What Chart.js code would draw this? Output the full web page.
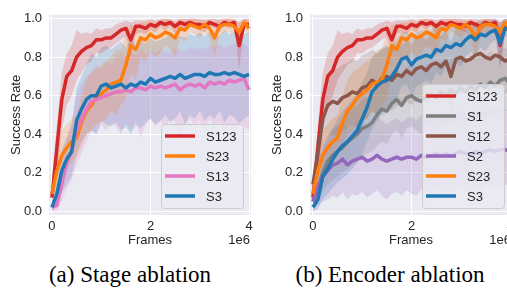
<!DOCTYPE html>
<html>
<head>
<meta charset="utf-8">
<script src="https://cdn.jsdelivr.net/npm/chart.js@4.4.1/dist/chart.umd.min.js"></script>
<style>
  html, body { margin: 0; padding: 0; background: #fff; overflow: hidden; width: 507px; height: 295px; position: relative; }
  .panel { position: absolute; top: 0; width: 258px; height: 250px; }
  #p1 { left: 0; }
  #p2 { left: 261px; }
  .caption { position: absolute; top: 263px; font-family: "Liberation Serif", "Times New Roman", serif; font-size: 23px; line-height: 23px; color: #000; white-space: nowrap; transform: translateX(-50%); }
</style>
</head>
<body>
<div class="panel" id="p1"><canvas id="c1" width="258" height="250"></canvas></div>
<div class="panel" id="p2"><canvas id="c2" width="258" height="250"></canvas></div>
<div class="caption" style="left:130px">(a) Stage ablation</div>
<div class="caption" style="left:390px">(b) Encoder ablation</div>
<script>
// frames in units of 1e6
const frames = [0, 0.1, 0.2, 0.3, 0.4, 0.5, 0.6, 0.7, 0.8, 0.9, 1.0, 1.1, 1.2, 1.3, 1.4, 1.5, 1.6, 1.7, 1.8, 1.9, 2.0,
  2.1, 2.2, 2.3, 2.4, 2.5, 2.6, 2.7, 2.8, 2.9, 3.0, 3.1, 3.2, 3.3, 3.4, 3.5, 3.6, 3.7, 3.8, 3.9, 4.0];
const xTicks = [0, 2, 4];
const yTicks = [0, 0.2, 0.4, 0.6, 0.8, 1.0];

// S123 (same in both panels)
const s123 = [0.07, 0.33, 0.58, 0.70, 0.73, 0.80, 0.83, 0.85, 0.86, 0.89, 0.89, 0.90, 0.90, 0.92, 0.94, 0.95, 0.89, 0.96, 0.96, 0.95, 0.97,
  0.96, 0.98, 0.97, 0.98, 0.96, 0.98, 0.97, 0.98, 0.97, 0.97, 0.96, 0.98, 0.97, 0.96, 0.98, 0.97, 0.98, 0.86, 0.97, 0.97];
const s123Lo = [0.04, 0.18, 0.42, 0.55, 0.60, 0.68, 0.72, 0.76, 0.78, 0.82, 0.82, 0.84, 0.85, 0.87, 0.89, 0.91, 0.80, 0.92, 0.93, 0.92, 0.94,
  0.93, 0.96, 0.94, 0.96, 0.92, 0.96, 0.94, 0.96, 0.95, 0.94, 0.93, 0.96, 0.95, 0.93, 0.96, 0.95, 0.96, 0.74, 0.95, 0.95];
const s123Hi = [0.10, 0.45, 0.72, 0.82, 0.86, 0.94, 0.92, 0.93, 0.92, 0.95, 0.94, 0.95, 0.95, 0.97, 0.98, 0.99, 0.98, 0.99, 0.99, 0.99, 1.0,
  0.99, 1.0, 1.0, 1.0, 0.99, 1.0, 1.0, 1.0, 1.0, 1.0, 0.99, 1.0, 1.0, 0.99, 1.0, 1.0, 1.0, 0.98, 1.0, 1.0];

// S23 (same in both panels)
const s23 = [0.09, 0.21, 0.29, 0.33, 0.36, 0.38, 0.46, 0.52, 0.55, 0.59, 0.61, 0.63, 0.66, 0.67, 0.68, 0.76, 0.86, 0.84, 0.90, 0.89, 0.92,
  0.90, 0.91, 0.93, 0.92, 0.90, 0.95, 0.94, 0.97, 0.96, 0.95, 0.97, 0.95, 0.90, 0.96, 0.97, 0.97, 0.96, 0.93, 0.98, 0.95];
const s23Lo = [0.07, 0.12, 0.18, 0.22, 0.25, 0.28, 0.34, 0.40, 0.42, 0.45, 0.46, 0.48, 0.52, 0.50, 0.55, 0.58, 0.72, 0.68, 0.80, 0.78, 0.83,
  0.80, 0.82, 0.86, 0.84, 0.80, 0.90, 0.88, 0.93, 0.92, 0.90, 0.93, 0.90, 0.80, 0.91, 0.93, 0.93, 0.92, 0.86, 0.95, 0.90];
const s23Hi = [0.11, 0.30, 0.42, 0.45, 0.48, 0.50, 0.60, 0.68, 0.72, 0.74, 0.76, 0.78, 0.80, 0.84, 0.84, 0.93, 0.97, 0.96, 0.98, 0.98, 0.99,
  0.98, 0.99, 1.0, 0.99, 0.98, 1.0, 0.99, 1.0, 1.0, 0.99, 1.0, 0.99, 0.98, 1.0, 1.0, 1.0, 0.99, 0.98, 1.0, 0.99];

// S13 (stage ablation)
const s13 = [0.02, 0.03, 0.14, 0.25, 0.31, 0.42, 0.48, 0.53, 0.57, 0.58, 0.59, 0.60, 0.61, 0.62, 0.62, 0.63, 0.62, 0.64, 0.64, 0.63, 0.65,
  0.64, 0.65, 0.64, 0.65, 0.66, 0.63, 0.65, 0.66, 0.65, 0.66, 0.64, 0.67, 0.66, 0.67, 0.66, 0.68, 0.67, 0.68, 0.69, 0.63];
const s13Lo = [0.0, 0.0, 0.05, 0.12, 0.16, 0.24, 0.30, 0.36, 0.42, 0.40, 0.45, 0.42, 0.46, 0.44, 0.40, 0.46, 0.42, 0.47, 0.38, 0.45, 0.48,
  0.44, 0.47, 0.43, 0.48, 0.46, 0.40, 0.45, 0.48, 0.44, 0.47, 0.42, 0.48, 0.44, 0.46, 0.42, 0.45, 0.40, 0.47, 0.44, 0.42];
const s13Hi = [0.04, 0.08, 0.24, 0.38, 0.46, 0.60, 0.66, 0.70, 0.72, 0.76, 0.74, 0.78, 0.76, 0.80, 0.82, 0.80, 0.82, 0.81, 0.84, 0.82, 0.83,
  0.82, 0.84, 0.83, 0.82, 0.85, 0.84, 0.83, 0.85, 0.84, 0.85, 0.84, 0.86, 0.85, 0.87, 0.85, 0.86, 0.87, 0.88, 0.87, 0.85];

// S3 (stage ablation)
const s3a = [0.02, 0.09, 0.21, 0.27, 0.31, 0.47, 0.53, 0.58, 0.60, 0.60, 0.65, 0.66, 0.64, 0.65, 0.66, 0.64, 0.66, 0.65, 0.67, 0.66, 0.69,
  0.67, 0.68, 0.69, 0.70, 0.69, 0.71, 0.69, 0.70, 0.71, 0.71, 0.70, 0.72, 0.71, 0.71, 0.72, 0.71, 0.72, 0.71, 0.70, 0.71];
const s3aLo = [0.0, 0.03, 0.10, 0.14, 0.18, 0.30, 0.36, 0.40, 0.42, 0.40, 0.47, 0.45, 0.44, 0.46, 0.42, 0.44, 0.40, 0.45, 0.43, 0.46, 0.48,
  0.45, 0.47, 0.50, 0.46, 0.48, 0.52, 0.45, 0.50, 0.48, 0.52, 0.47, 0.50, 0.48, 0.52, 0.46, 0.50, 0.49, 0.45, 0.48, 0.50];
const s3aHi = [0.04, 0.16, 0.32, 0.38, 0.45, 0.64, 0.70, 0.76, 0.82, 0.80, 0.85, 0.86, 0.84, 0.86, 0.88, 0.85, 0.90, 0.86, 0.90, 0.87, 0.90,
  0.88, 0.89, 0.90, 0.92, 0.90, 0.91, 0.90, 0.92, 0.91, 0.93, 0.91, 0.93, 0.92, 0.91, 0.94, 0.92, 0.93, 0.93, 0.92, 0.93];

// S1 (encoder ablation)
const s1 = [0.05, 0.12, 0.20, 0.26, 0.29, 0.31, 0.33, 0.36, 0.38, 0.40, 0.43, 0.44, 0.46, 0.50, 0.53, 0.52, 0.56, 0.58, 0.55, 0.59, 0.60,
  0.58, 0.57, 0.60, 0.61, 0.59, 0.62, 0.60, 0.63, 0.61, 0.64, 0.62, 0.65, 0.63, 0.66, 0.64, 0.67, 0.65, 0.68, 0.69, 0.66];
const s1Lo = [0.01, 0.05, 0.10, 0.14, 0.16, 0.18, 0.20, 0.22, 0.24, 0.26, 0.28, 0.30, 0.31, 0.34, 0.36, 0.35, 0.40, 0.42, 0.38, 0.43, 0.44,
  0.42, 0.40, 0.44, 0.45, 0.42, 0.46, 0.44, 0.47, 0.45, 0.48, 0.46, 0.49, 0.47, 0.50, 0.48, 0.51, 0.49, 0.52, 0.53, 0.50];
const s1Hi = [0.10, 0.20, 0.32, 0.40, 0.43, 0.45, 0.47, 0.51, 0.53, 0.55, 0.58, 0.59, 0.61, 0.66, 0.69, 0.68, 0.72, 0.74, 0.71, 0.75, 0.76,
  0.74, 0.73, 0.76, 0.77, 0.75, 0.78, 0.76, 0.79, 0.77, 0.80, 0.78, 0.81, 0.79, 0.82, 0.80, 0.83, 0.81, 0.84, 0.85, 0.82];

// S12 (encoder ablation)
const s12 = [0.14, 0.30, 0.48, 0.55, 0.57, 0.56, 0.59, 0.60, 0.62, 0.61, 0.64, 0.65, 0.68, 0.66, 0.69, 0.70, 0.68, 0.71, 0.70, 0.73, 0.71,
  0.74, 0.75, 0.73, 0.76, 0.77, 0.75, 0.78, 0.70, 0.79, 0.80, 0.78, 0.79, 0.81, 0.82, 0.80, 0.79, 0.81, 0.80, 0.78, 0.79];
const s12Lo = [0.08, 0.18, 0.32, 0.38, 0.40, 0.38, 0.42, 0.43, 0.45, 0.44, 0.47, 0.48, 0.52, 0.50, 0.53, 0.54, 0.52, 0.55, 0.54, 0.57, 0.55,
  0.58, 0.59, 0.56, 0.60, 0.61, 0.58, 0.62, 0.52, 0.63, 0.64, 0.61, 0.63, 0.65, 0.66, 0.63, 0.62, 0.65, 0.64, 0.61, 0.63];
const s12Hi = [0.20, 0.42, 0.64, 0.72, 0.74, 0.74, 0.76, 0.77, 0.79, 0.78, 0.81, 0.82, 0.84, 0.82, 0.85, 0.86, 0.84, 0.87, 0.86, 0.89, 0.87,
  0.90, 0.91, 0.89, 0.92, 0.93, 0.91, 0.94, 0.88, 0.95, 0.96, 0.94, 0.95, 0.97, 0.97, 0.96, 0.95, 0.97, 0.96, 0.94, 0.95];

// S2 (encoder ablation)
const s2 = [0.05, 0.13, 0.18, 0.21, 0.24, 0.25, 0.27, 0.24, 0.26, 0.27, 0.28, 0.26, 0.27, 0.29, 0.27, 0.26, 0.27, 0.28, 0.27, 0.28, 0.28,
  0.27, 0.29, 0.28, 0.29, 0.30, 0.29, 0.30, 0.29, 0.30, 0.31, 0.30, 0.29, 0.31, 0.30, 0.31, 0.32, 0.31, 0.32, 0.32, 0.31];
const s2Lo = [0.0, 0.03, 0.05, 0.06, 0.08, 0.07, 0.10, 0.06, 0.09, 0.08, 0.10, 0.07, 0.09, 0.11, 0.08, 0.06, 0.09, 0.10, 0.08, 0.11, 0.09,
  0.08, 0.11, 0.09, 0.10, 0.12, 0.10, 0.11, 0.09, 0.12, 0.13, 0.11, 0.10, 0.12, 0.11, 0.13, 0.14, 0.12, 0.13, 0.14, 0.12];
const s2Hi = [0.12, 0.26, 0.34, 0.38, 0.42, 0.44, 0.46, 0.42, 0.45, 0.47, 0.48, 0.45, 0.46, 0.50, 0.47, 0.45, 0.47, 0.48, 0.46, 0.48, 0.49,
  0.47, 0.50, 0.48, 0.49, 0.51, 0.49, 0.51, 0.50, 0.51, 0.52, 0.51, 0.50, 0.52, 0.51, 0.52, 0.53, 0.52, 0.53, 0.53, 0.52];

// S3 (encoder ablation)
const s3b = [0.02, 0.06, 0.18, 0.22, 0.27, 0.31, 0.34, 0.36, 0.39, 0.42, 0.48, 0.54, 0.62, 0.65, 0.67, 0.68, 0.70, 0.74, 0.79, 0.80, 0.76,
  0.79, 0.80, 0.81, 0.80, 0.84, 0.83, 0.86, 0.85, 0.87, 0.86, 0.89, 0.91, 0.89, 0.92, 0.91, 0.93, 0.94, 0.87, 0.95, 0.94];
const s3bLo = [0.0, 0.01, 0.06, 0.09, 0.12, 0.15, 0.17, 0.19, 0.22, 0.25, 0.30, 0.36, 0.43, 0.47, 0.50, 0.51, 0.54, 0.58, 0.65, 0.66, 0.60,
  0.65, 0.66, 0.68, 0.66, 0.72, 0.70, 0.75, 0.73, 0.77, 0.75, 0.80, 0.83, 0.80, 0.85, 0.83, 0.87, 0.89, 0.75, 0.91, 0.89];
const s3bHi = [0.05, 0.14, 0.32, 0.37, 0.43, 0.48, 0.52, 0.55, 0.58, 0.61, 0.67, 0.72, 0.80, 0.82, 0.84, 0.85, 0.86, 0.89, 0.93, 0.93, 0.91,
  0.93, 0.94, 0.94, 0.94, 0.96, 0.95, 0.97, 0.96, 0.97, 0.97, 0.98, 0.99, 0.98, 0.99, 0.99, 0.99, 1.0, 0.98, 1.0, 0.99];

const colors = {
  red: [214, 39, 40], orange: [255, 127, 14], pink: [227, 119, 194], blue: [31, 119, 180],
  gray: [127, 127, 127], brown: [140, 86, 75], purple: [148, 103, 189]
};

const stageSeries = [
  { label: 'S123', mean: s123, lo: s123Lo, hi: s123Hi, color: colors.red },
  { label: 'S23', mean: s23, lo: s23Lo, hi: s23Hi, color: colors.orange },
  { label: 'S13', mean: s13, lo: s13Lo, hi: s13Hi, color: colors.pink },
  { label: 'S3', mean: s3a, lo: s3aLo, hi: s3aHi, color: colors.blue }
];
const encoderSeries = [
  { label: 'S123', mean: s123, lo: s123Lo, hi: s123Hi, color: colors.red },
  { label: 'S1', mean: s1, lo: s1Lo, hi: s1Hi, color: colors.gray },
  { label: 'S12', mean: s12, lo: s12Lo, hi: s12Hi, color: colors.brown },
  { label: 'S2', mean: s2, lo: s2Lo, hi: s2Hi, color: colors.purple },
  { label: 'S23', mean: s23, lo: s23Lo, hi: s23Hi, color: colors.orange },
  { label: 'S3', mean: s3b, lo: s3bLo, hi: s3bHi, color: colors.blue }
];

const FONT = '"Liberation Sans", Arial, sans-serif';
const TEXT = '#262626';

function pts(vals) {
  return frames.map((f, i) => ({ x: f, y: vals[i] }));
}
function rgb(c, a) {
  return 'rgba(' + c[0] + ',' + c[1] + ',' + c[2] + ',' + a + ')';
}

// grey axes background
const bgPlugin = {
  id: 'bg',
  beforeDraw(chart) {
    const a = chart.chartArea, ctx = chart.ctx;
    ctx.save();
    ctx.fillStyle = '#EAEAF2';
    ctx.fillRect(a.left, a.top, a.right - a.left, a.bottom - a.top);
    ctx.restore();
  }
};

// legend box in lower right and the 1e6 offset text
const legendPlugin = {
  id: 'boxLegend',
  afterDraw(chart) {
    const ctx = chart.ctx, a = chart.chartArea;
    const items = chart.data.datasets.filter(d => d.label);
    const w = 82, h = items.length * 20 + 4;
    const x0 = a.right - 8 - w, y0 = a.bottom - 7 - h;
    ctx.save();
    ctx.beginPath();
    ctx.roundRect(x0 + 0.5, y0 + 0.5, w, h, 3);
    ctx.fillStyle = 'rgba(234,234,242,0.8)';
    ctx.fill();
    ctx.strokeStyle = '#cccccc';
    ctx.lineWidth = 1;
    ctx.stroke();
    ctx.font = '13px ' + FONT;
    ctx.textBaseline = 'middle';
    items.forEach((d, i) => {
      const y = y0 + 12 + i * 20;
      ctx.beginPath();
      ctx.moveTo(x0 + 4, y);
      ctx.lineTo(x0 + 34, y);
      ctx.strokeStyle = d.borderColor;
      ctx.lineWidth = 3.5;
      ctx.stroke();
      ctx.fillStyle = TEXT;
      ctx.textAlign = 'left';
      ctx.fillText(d.label, x0 + 45, y + 1);
    });
    ctx.textAlign = 'right';
    ctx.fillText('1e6', a.right - 1, 240);
    ctx.restore();
  }
};

function makeChart(id, series) {
  const datasets = [];
  series.forEach((s, i) => {
    datasets.push({ label: '', data: pts(s.lo), borderWidth: 0, pointRadius: 0, fill: false, order: 100 });
    datasets.push({ label: '', data: pts(s.hi), borderWidth: 0, pointRadius: 0, fill: '-1',
      backgroundColor: rgb(s.color, 0.2), order: 100 });
  });
  series.forEach((s, i) => {
    datasets.push({ label: s.label, data: pts(s.mean), borderColor: rgb(s.color, 1), borderWidth: 3.5,
      pointRadius: 0, fill: false, tension: 0, borderJoinStyle: 'round', order: series.length - i });
  });

  new Chart(document.getElementById(id), {
    type: 'line',
    data: { datasets: datasets },
    options: {
      responsive: false,
      animation: false,
      events: [],
      layout: { padding: { left: 0, top: 9, right: 7, bottom: 0 } },
      plugins: { legend: { display: false }, tooltip: { enabled: false } },
      scales: {
        x: {
          type: 'linear', min: -0.06, max: 4.04,
          afterBuildTicks: s => { s.ticks = xTicks.map(v => ({ value: v })); },
          afterFit: s => { s.height = 35; },
          grid: { color: '#ffffff', lineWidth: 1, drawTicks: false },
          border: { display: false },
          ticks: { font: { family: FONT, size: 13 }, color: TEXT, padding: 4, maxRotation: 0,
            callback: v => String(v) },
          title: { display: true, text: 'Frames', font: { family: FONT, size: 13 }, color: TEXT,
            padding: { top: 0, bottom: 2 } }
        },
        y: {
          min: -0.02, max: 1.02,
          afterBuildTicks: s => { s.ticks = yTicks.map(v => ({ value: v })); },
          afterFit: s => { s.width = 49; },
          grid: { color: '#ffffff', lineWidth: 1, drawTicks: false },
          border: { display: false },
          ticks: { font: { family: FONT, size: 13 }, color: TEXT, padding: 7,
            callback: v => v.toFixed(1) },
          title: { display: true, text: 'Success Rate', font: { family: FONT, size: 13 }, color: TEXT,
            padding: { top: 9, bottom: 0 } }
        }
      }
    },
    plugins: [bgPlugin, legendPlugin]
  });
}

makeChart('c1', stageSeries);
makeChart('c2', encoderSeries);
</script>
</body>
</html>
